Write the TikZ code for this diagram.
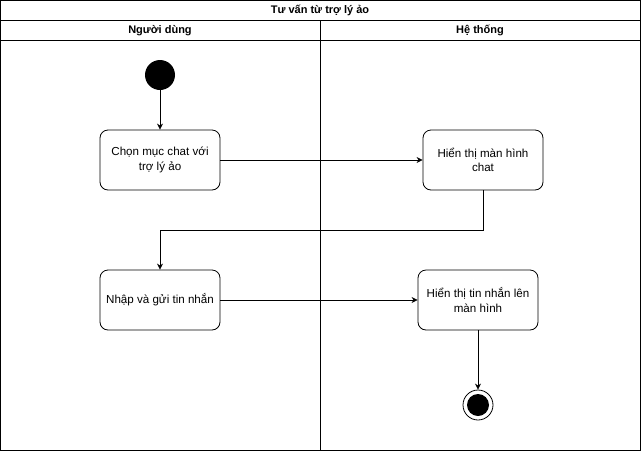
\documentclass[tikz,border=0pt]{standalone}
\usepackage{fontspec}
\setmainfont{Liberation Sans}
\usetikzlibrary{arrows.meta}
\begin{document}
\begin{tikzpicture}[x=1pt,y=-1pt,
  act/.style={draw,line width=0.8pt,rounded corners=8pt,minimum width=120pt,minimum height=60pt,align=center,inner sep=2pt,font=\fontsize{11.6}{14.5}\selectfont},
  conn/.style={draw,line width=0.8pt,-{Stealth[length=6pt,width=6pt]}},
  hdr/.style={font=\bfseries\fontsize{11}{13}\selectfont}]
\useasboundingbox (0,0) rectangle (641,451);
\draw[line width=0.8pt] (0.5,0.5) rectangle (640.5,450.5);
\draw[line width=0.8pt] (0.5,20.5) -- (640.5,20.5);
\draw[line width=0.8pt] (0.5,40.5) -- (640.5,40.5);
\draw[line width=0.8pt] (320.5,20.5) -- (320.5,450.5);
\node[hdr] (title) at (320,10.5) {Tư vấn từ trợ lý ảo};
\node[hdr] (lane1) at (160,30.5) {Người dùng};
\node[hdr] (lane2) at (480,30.5) {Hệ thống};
\node[circle,fill=black,minimum size=30pt,inner sep=0pt] (start) at (160,75) {};
\node[act] (a1) at (160,160) {Chọn mục chat với\\trợ lý ảo};
\node[act] (a2) at (483,160) {Hiển thị màn hình\\chat};
\node[act] (a3) at (160,300) {Nhập và gửi tin nhắn};
\node[act] (a4) at (478,300) {Hiển thị tin nhắn lên\\màn hình};
\node[circle,draw,line width=0.8pt,minimum size=30pt,inner sep=0pt] (end) at (478,405) {};
\node[circle,fill=black,minimum size=22pt,inner sep=0pt] (endin) at (478,405) {};
\draw[conn] (start) -- (a1);
\draw[conn] (a1) -- (a2);
\draw[conn] (a2.south) -- ++(0,40) -| (a3.north);
\draw[conn] (a3) -- (a4);
\draw[conn] (a4) -- (end);
\end{tikzpicture}
\end{document}
